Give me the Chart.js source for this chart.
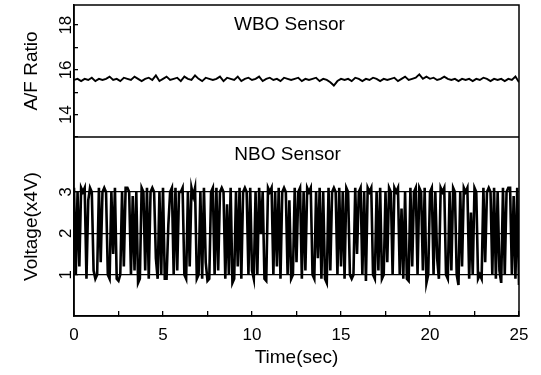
<!DOCTYPE html>
<html>
<head>
<meta charset="utf-8">
<script src="https://cdn.jsdelivr.net/npm/chart.js@4.4.0/dist/chart.umd.min.js"></script>
<style>
  html, body { margin: 0; padding: 0; background: #fff; }
</style>
</head>
<body>
<canvas id="myChart" width="541" height="375"></canvas>
<script>
// sample spacing (sec) of each trace
var wboStep = 0.2;
var nboStep = 0.1;

// WBO sensor A/F ratio
var wboRatio = [
  15.55, 15.6, 15.5, 15.6, 15.55, 15.65, 15.5, 15.6, 15.55, 15.6,
  15.7, 15.55, 15.6, 15.5, 15.65, 15.6, 15.55, 15.7, 15.6, 15.5,
  15.6, 15.65, 15.55, 15.75, 15.5, 15.6, 15.7, 15.55, 15.6, 15.65,
  15.5, 15.7, 15.6, 15.55, 15.75, 15.6, 15.5, 15.65, 15.6, 15.55,
  15.6, 15.7, 15.5, 15.65, 15.6, 15.55, 15.7, 15.5, 15.6, 15.65,
  15.55, 15.6, 15.7, 15.5, 15.6, 15.65, 15.55, 15.6, 15.5, 15.65,
  15.6, 15.55, 15.6, 15.65, 15.5, 15.6, 15.55, 15.6, 15.65, 15.5,
  15.6, 15.55, 15.45, 15.3, 15.5, 15.6, 15.55, 15.6, 15.5, 15.65,
  15.6, 15.5, 15.6, 15.55, 15.65, 15.6, 15.5, 15.6, 15.55, 15.6,
  15.65, 15.5, 15.6, 15.7, 15.55, 15.6, 15.65, 15.8, 15.6, 15.7,
  15.6, 15.65, 15.55, 15.6, 15.7, 15.6, 15.55, 15.6, 15.5, 15.6,
  15.55, 15.6, 15.5, 15.6, 15.55, 15.65, 15.6, 15.5, 15.6, 15.55,
  15.6, 15.5, 15.6, 15.55, 15.7, 15.45
];

// NBO sensor voltage (x4V)
var nboVolt = [
  3.1, 1.0, 3.0, 1.2, 3.1, 3.0, 3.1, 0.9, 2.8, 3.1,
  3.0, 1.1, 0.9, 1.0, 3.1, 1.3, 3.0, 3.1, 3.0, 1.0,
  0.9, 3.0, 1.5, 3.1, 0.9, 0.85, 1.0, 3.0, 1.2, 3.1,
  3.1, 3.0, 1.0, 2.9, 1.1, 3.0, 0.8, 0.9, 3.1, 3.0,
  1.1, 3.1, 0.9, 3.0, 3.1, 3.0, 1.4, 0.9, 3.0, 1.0,
  3.1, 0.9, 0.9, 2.2, 3.0, 3.1, 1.0, 3.1, 1.1, 3.0,
  3.0, 3.1, 1.0, 0.9, 3.0, 1.2, 3.1, 2.9, 3.1, 0.9,
  1.0, 3.0, 0.9, 3.1, 1.3, 0.85, 0.9, 3.0, 3.1, 1.0,
  3.1, 1.1, 3.0, 3.1, 3.0, 0.9, 2.7, 1.0, 3.1, 0.8,
  0.9, 3.0, 1.2, 3.1, 0.9, 3.0, 3.1, 3.0, 1.0, 3.1,
  1.1, 0.9, 3.0, 1.0, 3.1, 2.0, 3.0, 0.9, 0.85, 3.1,
  3.0, 3.1, 1.0, 3.0, 1.2, 3.1, 0.9, 3.0, 3.1, 3.0,
  1.0, 2.8, 0.9, 1.0, 3.1, 1.3, 3.0, 3.1, 0.9, 3.0,
  1.1, 3.1, 3.0, 3.1, 1.0, 0.9, 3.0, 1.4, 3.1, 0.9,
  3.0, 0.9, 0.8, 3.1, 1.1, 3.0, 3.1, 3.0, 1.0, 3.1,
  1.2, 3.0, 0.9, 3.1, 3.0, 1.0, 0.9, 1.0, 3.1, 1.5,
  3.0, 3.1, 1.0, 3.0, 0.85, 3.1, 3.0, 3.1, 1.0, 0.9,
  3.0, 1.1, 3.1, 0.9, 1.0, 3.0, 1.3, 3.1, 3.0, 1.0,
  3.1, 3.0, 3.1, 1.0, 2.6, 0.9, 3.0, 0.9, 0.85, 3.1,
  1.2, 3.0, 3.1, 1.0, 3.1, 3.0, 1.1, 3.1, 0.8, 1.0,
  3.0, 3.1, 1.0, 3.0, 1.4, 0.9, 3.1, 3.0, 3.1, 1.0,
  0.9, 3.0, 1.1, 3.1, 3.0, 1.0, 0.75, 3.0, 1.2, 3.1,
  3.0, 3.1, 0.9, 2.5, 1.0, 3.1, 3.0, 0.9, 1.0, 0.9,
  3.1, 1.3, 3.0, 3.1, 3.0, 1.0, 3.1, 0.9, 3.0, 1.1,
  0.8, 3.1, 1.0, 3.0, 3.1, 3.1, 1.0, 2.9, 0.9, 3.1,
  0.75
];

var timeTicks = [0, 5, 10, 15, 20, 25];
var ratioTicks = [14, 16, 18];
var voltTicks = [1, 2, 3];
var panelNames = ['WBO Sensor', 'NBO Sensor'];

function toPoints(values, step) {
  return values.map(function (v, i) { return { x: i * step, y: v }; });
}

// fixed axis sizes so the plot box sits where the original does
function fixY(s) {
  s.width = 74;
  s.paddingTop = 0;
  s.paddingBottom = 0;
}
function fixX(s) {
  s.height = 59;
  s.paddingLeft = 0;
  s.paddingRight = 0;
}

// box around the plot, divider between the panels, panel names
var panelPlugin = {
  id: 'panels',
  afterDraw: function (chart) {
    var ctx = chart.ctx;
    var a = chart.chartArea;
    var yW = chart.scales.yW, yN = chart.scales.yN, x = chart.scales.x;
    ctx.save();
    ctx.strokeStyle = '#000';
    ctx.lineWidth = 1.5;
    ctx.strokeRect(a.left, a.top, a.right - a.left, a.bottom - a.top);
    ctx.beginPath();
    ctx.moveTo(a.left, yW.bottom);
    ctx.lineTo(a.right, yW.bottom);
    ctx.stroke();
    ctx.fillStyle = '#000';
    ctx.font = '19px "Liberation Sans", Arial, sans-serif';
    ctx.textAlign = 'center';
    ctx.textBaseline = 'alphabetic';
    ctx.fillText(panelNames[0], x.getPixelForValue(12.1), yW.top + 25);
    ctx.fillText(panelNames[1], x.getPixelForValue(12.0), yN.top + 23);
    ctx.restore();
  }
};

var font = { family: '"Liberation Sans", Arial, sans-serif', size: 17 };
var titleFont = { family: '"Liberation Sans", Arial, sans-serif', size: 19 };

var config = {
  type: 'line',
  data: {
    datasets: [{
      label: 'NBO',
      data: toPoints(nboVolt, nboStep),
      yAxisID: 'yN',
      borderColor: '#000',
      borderWidth: 2.6,
      pointRadius: 0,
      tension: 0
    }, {
      label: 'WBO',
      data: toPoints(wboRatio, wboStep),
      yAxisID: 'yW',
      borderColor: '#000',
      borderWidth: 1.9,
      pointRadius: 0,
      tension: 0
    }]
  },
  options: {
    responsive: false,
    animation: false,
    layout: { padding: { top: 5, right: 22, left: 0, bottom: 0 } },
    plugins: { legend: { display: false }, tooltip: { enabled: false } },
    scales: {
      x: {
        type: 'linear',
        min: 0, max: 25,
        afterFit: fixX,
        border: { color: '#000', width: 1.5 },
        grid: { drawOnChartArea: false, color: '#000', tickLength: -5, lineWidth: 1.3 },
        ticks: {
          stepSize: 2.5, autoSkip: false, maxRotation: 0, color: '#000', font: font, padding: 14,
          callback: function (v) { return timeTicks.indexOf(v) >= 0 ? String(v) : ''; }
        },
        title: { display: true, text: 'Time(sec)', color: '#000', font: titleFont, padding: { top: 0, bottom: 6 } }
      },
      yN: {
        type: 'linear',
        position: 'left',
        stack: 'panels',
        stackWeight: 179,
        min: 0, max: 4.33,
        afterFit: fixY,
        border: { color: '#000', width: 1.5 },
        grid: {
          drawOnChartArea: true, tickLength: -4, lineWidth: 1.3,
          color: function (c) { return voltTicks.indexOf(c.tick.value) >= 0 ? '#000' : 'rgba(0,0,0,0)'; }
        },
        ticks: {
          stepSize: 1, includeBounds: false, autoSkip: false, minRotation: 90, maxRotation: 90, crossAlign: 'center',
          padding: 7, color: '#000', font: font,
          callback: function (v) { return voltTicks.indexOf(v) >= 0 ? String(v) : ''; }
        },
        title: { display: true, text: 'Voltage(x4V)', color: '#000', font: titleFont, padding: { top: 20, bottom: 0 } }
      },
      yW: {
        type: 'linear',
        position: 'left',
        stack: 'panels',
        stackWeight: 132,
        min: 13, max: 18.9,
        afterFit: fixY,
        border: { color: '#000', width: 1.5 },
        grid: { drawOnChartArea: false, color: '#000', tickLength: -4, lineWidth: 1.3 },
        ticks: {
          stepSize: 1, includeBounds: false, autoSkip: false, minRotation: 90, maxRotation: 90, crossAlign: 'center',
          padding: 2.5, color: '#000', font: font,
          callback: function (v) { return ratioTicks.indexOf(v) >= 0 ? String(v) : ''; }
        },
        title: { display: true, text: 'A/F Ratio', color: '#000', font: titleFont, padding: { top: 20, bottom: 0 } }
      }
    }
  },
  plugins: [panelPlugin]
};

var myChart = new Chart(document.getElementById('myChart'), config);
</script>
</body>
</html>
